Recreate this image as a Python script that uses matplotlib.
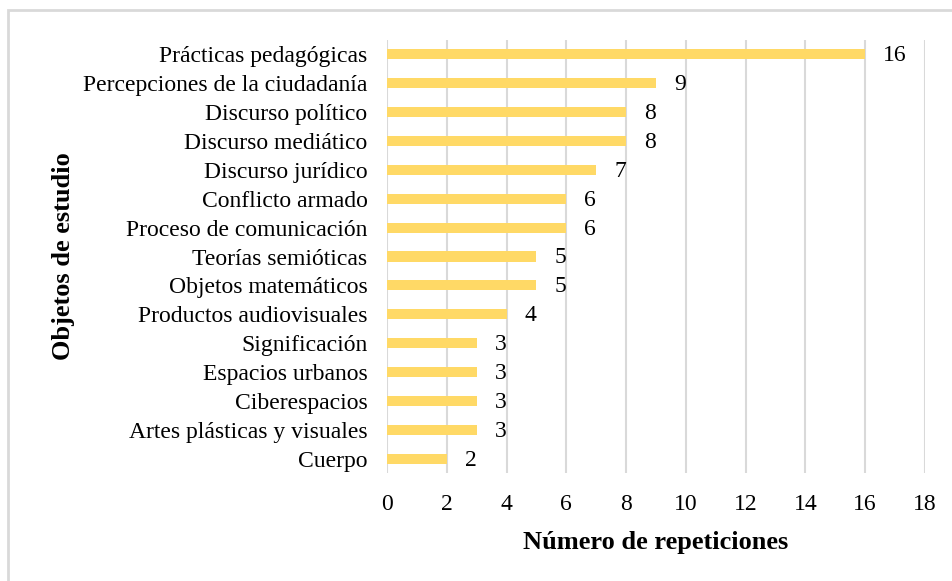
import matplotlib.pyplot as plt
from matplotlib.patches import Rectangle

objetos = ['Prácticas pedagógicas', 'Percepciones de la ciudadanía', 'Discurso político',
           'Discurso mediático', 'Discurso jurídico', 'Conflicto armado',
           'Proceso de comunicación', 'Teorías semióticas', 'Objetos matemáticos',
           'Productos audiovisuales', 'Significación', 'Espacios urbanos',
           'Ciberespacios', 'Artes plásticas y visuales', 'Cuerpo']
repeticiones = [16, 9, 8, 8, 7, 6, 6, 5, 5, 4, 3, 3, 3, 3, 2]
x_ticks = list(range(0, 19, 2))

plt.rcParams['font.family'] = ['Liberation Serif', 'DejaVu Serif']

fig = plt.figure(figsize=(9.52, 5.81), dpi=100)
ax = fig.add_axes([387 / 952, 1 - 473 / 581, (925 - 387) / 952, (473 - 40) / 581])

y = list(range(len(objetos)))
ax.barh(y, repeticiones, height=0.35, color='#FFD966', zorder=3)
for yi, v in zip(y, repeticiones):
    ax.text(v + 0.6, yi + 0.05, str(v), va='center', ha='left', fontsize=17)

ax.set_xlim(0, 18)
ax.set_ylim(len(objetos) - 0.5, -0.5)
ax.set_xticks(x_ticks)
ax.set_yticks(y, objetos)
ax.tick_params(axis='both', length=0, labelsize=17)
ax.tick_params(axis='x', pad=15)
ax.tick_params(axis='y', pad=14)
ax.grid(axis='x', color='#D9D9D9', linewidth=1.5, zorder=0)
for s in ax.spines.values():
    s.set_visible(False)

ax.set_xlabel('Número de repeticiones', fontsize=19, fontweight='bold', labelpad=12)
ax.set_ylabel('Objetos de estudio', fontsize=19, fontweight='bold', labelpad=6)

# outer frame
fig.patches.append(Rectangle((8 / 952, -0.1), 1.2, 1 - 10 / 581 + 0.1,
                             transform=fig.transFigure, fill=False,
                             edgecolor='#D9D9D9', linewidth=2))

fig.savefig('out.png', dpi=100)
